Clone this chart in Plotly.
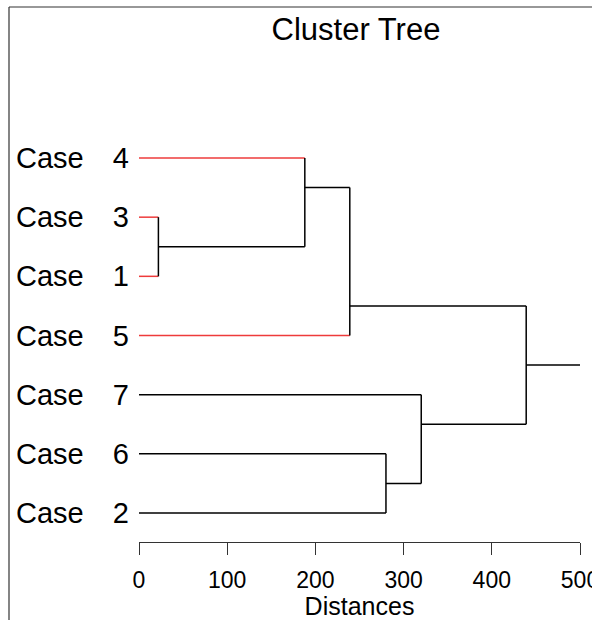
import plotly.graph_objects as go

# ---- data ----
leaf_labels = ["4", "3", "1", "5", "7", "6", "2"]          # top to bottom
leaf_red = [True, True, True, True, False, False, False]
# merge nodes: (child_a, child_b, distance, y position of outgoing branch)
# children: ("L", leaf index) or ("N", node index)
node_children_a = [("L", 1), ("L", 0), ("N", 1), ("L", 5), ("L", 4), ("N", 2)]
node_children_b = [("L", 2), ("N", 0), ("L", 3), ("L", 6), ("N", 3), ("N", 4)]
node_dist = [22, 188, 239, 280, 320, 439]
node_ypos = [1.5, 0.5, 2.5, 5.5, 4.5, 3.5]
root_end = 500
x_ticks = [0, 100, 200, 300, 400, 500]

W, H = 592, 620
L, R, T, B = 139, 12, 128, 78
FONT = "Liberation Sans, Arial, sans-serif"
RED = "#ee3b3b"

def child_xy(c):
    kind, i = c
    if kind == "L":
        return 0, i
    return node_dist[i], node_ypos[i]

fig = go.Figure()

def seg(x0, y0, x1, y1, color):
    fig.add_trace(go.Scatter(x=[x0, x1], y=[y0, y1], mode="lines",
                             line=dict(color=color, width=1.5),
                             hoverinfo="skip", showlegend=False))

for k in range(len(node_dist)):
    h = node_dist[k]
    ys = []
    for c in (node_children_a[k], node_children_b[k]):
        cx, cy = child_xy(c)
        col = RED if (c[0] == "L" and leaf_red[c[1]]) else "black"
        seg(cx, cy, h, cy, col)
        ys.append(cy)
    seg(h, min(ys), h, max(ys), "black")

# root stub
seg(node_dist[-1], node_ypos[-1], root_end, node_ypos[-1], "black")

plot_w = W - L - R
plot_h = H - T - B
def px(xp):
    return (xp - L) / plot_w
def py(yp):
    return (H - B - yp) / plot_h

# "Case" labels
for i, lab in enumerate(leaf_labels):
    fig.add_annotation(x=px(14), xref="paper", y=i, yref="y",
                       text="Case", showarrow=False, xanchor="left", yanchor="middle",
                       font=dict(family=FONT, size=29, color="black"))

# frame (partially cropped box)
fig.add_shape(type="line", xref="paper", yref="paper",
              x0=px(9), y0=py(7), x1=px(9), y1=py(H + 5),
              line=dict(color="#333333", width=1.2))
fig.add_shape(type="line", xref="paper", yref="paper",
              x0=px(9), y0=py(7), x1=px(W + 5), y1=py(7),
              line=dict(color="#333333", width=1.2))

fig.update_layout(
    width=W, height=H,
    margin=dict(l=L, r=R, t=T, b=B, pad=0, autoexpand=False),
    paper_bgcolor="white", plot_bgcolor="white",
    font=dict(family=FONT, color="black"),
    title=dict(text="Cluster Tree", x=356 / W, xanchor="center",
               y=1 - 29 / H, yanchor="middle", automargin=False,
               font=dict(family=FONT, size=31, color="black")),
    xaxis=dict(range=[0, 500], tickvals=x_ticks, ticktext=[str(v) for v in x_ticks],
               showgrid=False, zeroline=False, showline=True, linecolor="#333333",
               linewidth=1.2, ticks="outside", ticklen=12, tickwidth=1.2,
               tickcolor="#333333", tickfont=dict(family=FONT, size=23),
               ticklabeloverflow="allow", ticklabelstandoff=5, automargin=False,
               title=dict(text="Distances", font=dict(family=FONT, size=25), standoff=4),
               fixedrange=True),
    yaxis=dict(range=[6.49, -0.507],
               tickvals=list(range(len(leaf_labels))), ticktext=leaf_labels,
               showgrid=False, zeroline=False, showline=False, ticks="",
               tickfont=dict(family=FONT, size=29), ticklabelstandoff=9,
               automargin=False, fixedrange=True),
)

fig.write_html("out.html")
